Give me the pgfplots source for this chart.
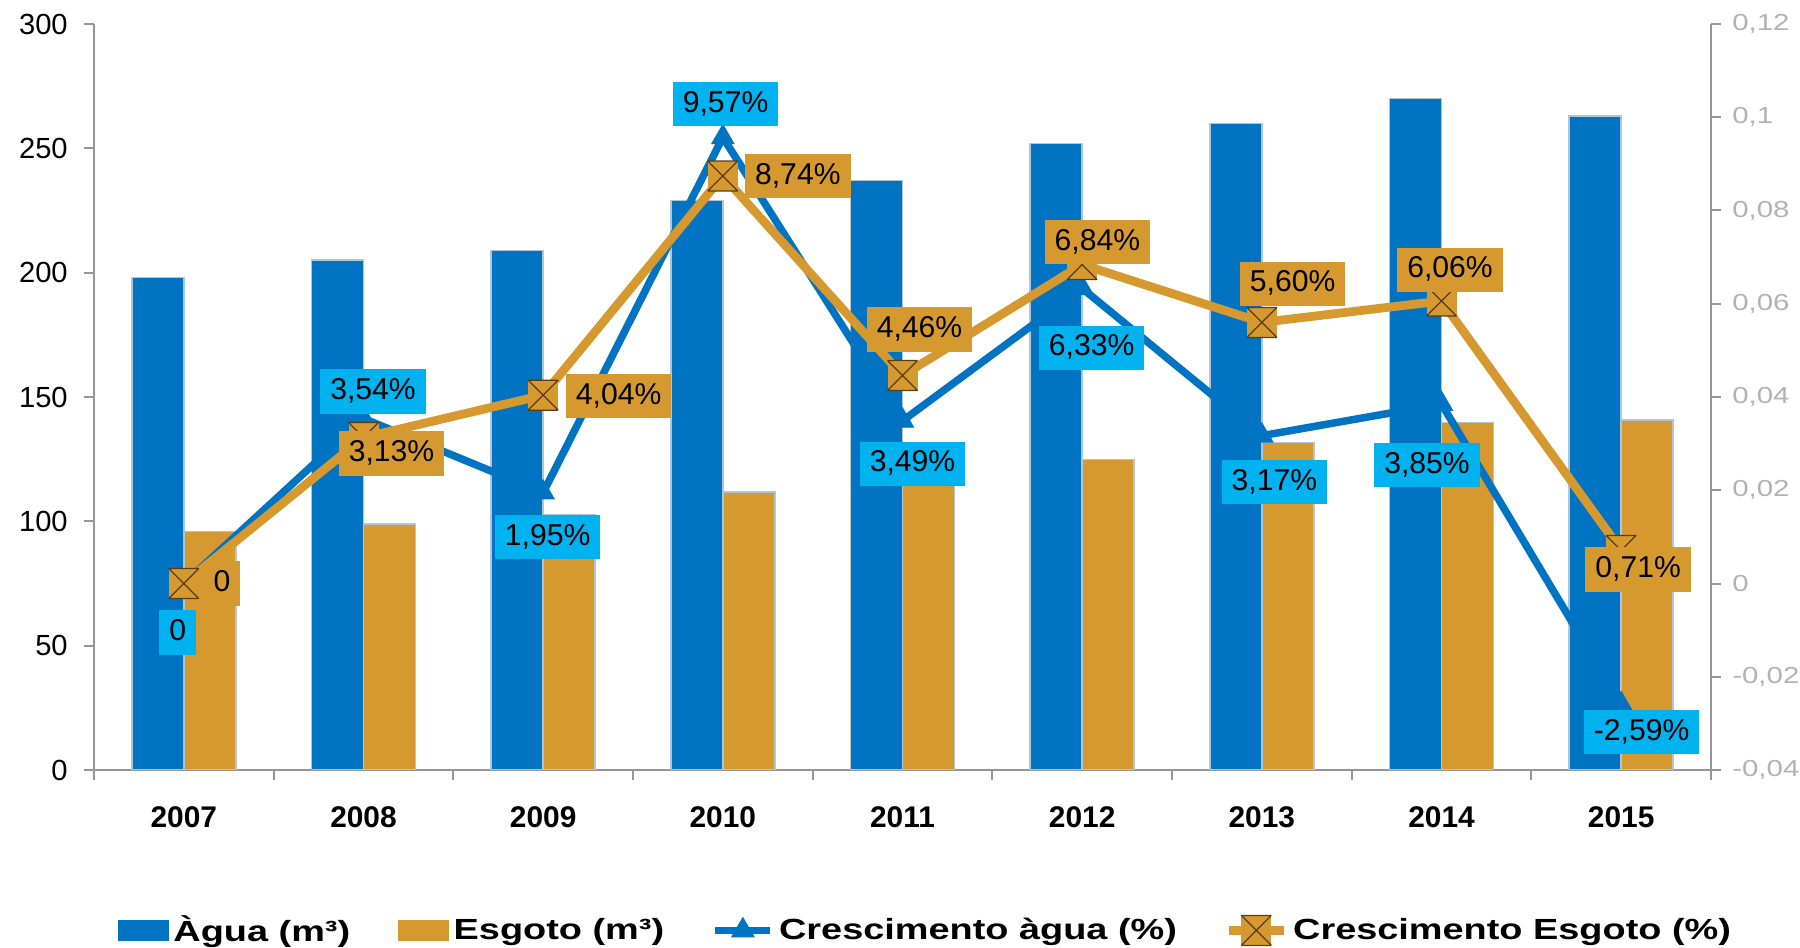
\documentclass[border=0pt]{standalone}
\usepackage{fontspec}
\setmainfont{Liberation Sans}
\usepackage{graphicx}
\usepackage{pgfplots}
\pgfplotsset{compat=1.18}

\definecolor{agua}{RGB}{0,115,195}
\definecolor{esgoto}{RGB}{214,153,48}
\definecolor{rotagua}{RGB}{0,178,240}
\definecolor{axisgray}{RGB}{150,150,150}
\definecolor{barline}{RGB}{175,198,212}
\definecolor{xmark}{RGB}{90,60,20}

% square mark with an X and top/bottom edges (Excel style)
\pgfdeclareplotmark{boxx}{%
  \pgfpathrectangle{\pgfqpoint{-\pgfplotmarksize}{-\pgfplotmarksize}}{\pgfqpoint{2\pgfplotmarksize}{2\pgfplotmarksize}}%
  \pgfusepathqfill
  \pgfpathmoveto{\pgfqpoint{-\pgfplotmarksize}{-\pgfplotmarksize}}%
  \pgfpathlineto{\pgfqpoint{\pgfplotmarksize}{\pgfplotmarksize}}%
  \pgfpathmoveto{\pgfqpoint{-\pgfplotmarksize}{\pgfplotmarksize}}%
  \pgfpathlineto{\pgfqpoint{\pgfplotmarksize}{-\pgfplotmarksize}}%
  \pgfpathmoveto{\pgfqpoint{-\pgfplotmarksize}{\pgfplotmarksize}}%
  \pgfpathlineto{\pgfqpoint{\pgfplotmarksize}{\pgfplotmarksize}}%
  \pgfpathmoveto{\pgfqpoint{-\pgfplotmarksize}{-\pgfplotmarksize}}%
  \pgfpathlineto{\pgfqpoint{\pgfplotmarksize}{-\pgfplotmarksize}}%
  \pgfusepathqstroke
}

\newcommand{\legtxt}[1]{\scalebox{1.3}[1]{#1}}
\newcommand{\rlab}[1]{\scalebox{1.27}[1]{#1}}

\begin{document}
\begin{tikzpicture}[
    lblA/.style={fill=rotagua, inner xsep=4bp, inner ysep=3.1bp, text height=9bp, text depth=2.5bp,
                 font=\fontsize{12.1}{14}\selectfont, text=black},
    lblE/.style={lblA, fill=esgoto},
  ]
  % bars, left axis
  \begin{axis}[
      name=bars,
      scale only axis,
      width=646.8bp, height=298.4bp,
      xmin=-0.5, xmax=8.5,
      ymin=0, ymax=300,
      axis x line*=bottom, axis y line*=left,
      axis line style={axisgray, line width=0.8bp},
      tick style={axisgray, line width=0.8bp},
      tick align=outside,
      major tick length=4bp,
      xtick={-0.5,0.5,1.5,2.5,3.5,4.5,5.5,6.5,7.5,8.5},
      x tick label as interval,
      xticklabels={2007,2008,2009,2010,2011,2012,2013,2014,2015},
      xticklabel style={font=\bfseries\fontsize{12}{14}\selectfont, yshift=-7bp},
      ytick={0,50,100,150,200,250,300},
      yticklabel style={font=\fontsize{11.7}{13}\selectfont, xshift=-3bp},
      /pgf/number format/assume math mode=true,
    ]
    \addplot[ybar, bar width=20.8bp, bar shift=-10.4bp, fill=agua, draw=barline, line width=0.6bp]
      coordinates {(0,198) (1,205) (2,209) (3,229) (4,237) (5,252) (6,260) (7,270) (8,263)};
    \addplot[ybar, bar width=20.8bp, bar shift=10.4bp, fill=esgoto, draw=barline, line width=0.6bp]
      coordinates {(0,96) (1,99) (2,102.8) (3,111.8) (4,116.8) (5,124.8) (6,131.8) (7,139.8) (8,140.8)};
  \end{axis}

  % growth lines, right axis
  \begin{axis}[
      scale only axis,
      width=646.8bp, height=298.4bp,
      xmin=-0.5, xmax=8.5,
      ymin=-0.04, ymax=0.12,
      axis x line=none, axis y line*=right,
      axis line style={axisgray, line width=0.8bp},
      tick style={axisgray, line width=0.8bp},
      tick align=outside,
      major tick length=4bp,
      ytick={-0.04,-0.02,0,0.02,0.04,0.06,0.08,0.1,0.12},
      yticklabels={\rlab{-0,04},\rlab{-0,02},\rlab{0},\rlab{0,02},\rlab{0,04},\rlab{0,06},\rlab{0,08},\rlab{0,1},\rlab{0,12}},
      yticklabel style={font=\fontsize{9.3}{11}\selectfont, text=black!30, xshift=1bp},
      legend columns=4,
      legend style={at={(0.515,-0.215)}, anchor=center, draw=none, fill=none,
                    font=\bfseries\fontsize{11.7}{14}\selectfont,
                    /tikz/every even column/.append style={column sep=17bp}},
      legend image code/.code={\draw[mark repeat=2,mark phase=2] plot coordinates {(0bp,0bp) (11bp,0bp) (22bp,0bp)};},
    ]
    \addlegendimage{legend image code/.code={\fill[agua] (0bp,-4bp) rectangle (20bp,4bp);}}
    \addlegendentry{\legtxt{Àgua (m³)}}
    \addlegendimage{legend image code/.code={\fill[esgoto] (0bp,-4bp) rectangle (20bp,4bp);}}
    \addlegendentry{\legtxt{Esgoto (m³)}}

    \addplot[agua, line width=3bp, mark=triangle*, mark size=5bp, mark options={solid, fill=agua, draw=agua, line width=0.5bp}]
      coordinates {(0,0) (1,0.0354) (2,0.0195) (3,0.0957) (4,0.0349) (5,0.0633) (6,0.0317) (7,0.0385) (8,-0.0259)};
    \addlegendentry{\legtxt{Crescimento àgua (\%)}}
    \addplot[esgoto, line width=3.5bp, mark=boxx, mark size=6bp, mark options={solid, fill=esgoto, draw=xmark, line width=0.5bp}]
      coordinates {(0,0) (1,0.0313) (2,0.0404) (3,0.0874) (4,0.0446) (5,0.0684) (6,0.056) (7,0.0606) (8,0.0071)};
    \addlegendentry{\legtxt{Crescimento Esgoto (\%)}}

    % anchor points for the data labels
    \coordinate (a0) at (axis cs:0,0);
    \coordinate (a1) at (axis cs:1,0.0354);
    \coordinate (a2) at (axis cs:2,0.0195);
    \coordinate (a3) at (axis cs:3,0.0957);
    \coordinate (a4) at (axis cs:4,0.0349);
    \coordinate (a5) at (axis cs:5,0.0633);
    \coordinate (a6) at (axis cs:6,0.0317);
    \coordinate (a7) at (axis cs:7,0.0385);
    \coordinate (a8) at (axis cs:8,-0.0259);
    \coordinate (e0) at (axis cs:0,0);
    \coordinate (e1) at (axis cs:1,0.0313);
    \coordinate (e2) at (axis cs:2,0.0404);
    \coordinate (e3) at (axis cs:3,0.0874);
    \coordinate (e4) at (axis cs:4,0.0446);
    \coordinate (e5) at (axis cs:5,0.0684);
    \coordinate (e6) at (axis cs:6,0.056);
    \coordinate (e7) at (axis cs:7,0.0606);
    \coordinate (e8) at (axis cs:8,0.0071);
  \end{axis}

  % data labels on top of lines and marks
  \node[lblA, xshift=-2.4bp, yshift=-19.6bp] at (a0) {0};
  \node[lblA, xshift=3.8bp,  yshift=10.8bp]  at (a1) {3,54\%};
  \node[lblA, xshift=1.8bp,  yshift=-17.9bp] at (a2) {1,95\%};
  \node[lblA, xshift=1.1bp,  yshift=13.2bp]  at (a3) {9,57\%};
  \node[lblA, xshift=4bp,    yshift=-17.2bp] at (a4) {3,49\%};
  \node[lblA, xshift=3.8bp,  yshift=-23.8bp] at (a5) {6,33\%};
  \node[lblA, xshift=5bp,    yshift=-18.6bp] at (a6) {3,17\%};
  \node[lblA, xshift=-5.8bp, yshift=-24.4bp] at (a7) {3,85\%};
  \node[lblA, xshift=8.2bp,  yshift=-11.2bp] at (a8) {-2,59\%};
  \node[lblE, xshift=15.3bp, yshift=0bp]     at (e0) {0};
  \node[lblE, xshift=11.2bp, yshift=-6.4bp]  at (e1) {3,13\%};
  \node[lblE, xshift=30.2bp, yshift=-0.4bp]  at (e2) {4,04\%};
  \node[lblE, xshift=30bp,   yshift=0bp]     at (e3) {8,74\%};
  \node[lblE, xshift=6.8bp,  yshift=18.4bp]  at (e4) {4,46\%};
  \node[lblE, xshift=6.1bp,  yshift=9bp]     at (e5) {6,84\%};
  \node[lblE, xshift=12.3bp, yshift=15.5bp]  at (e6) {5,60\%};
  \node[lblE, xshift=3.4bp,  yshift=12.5bp]  at (e7) {6,06\%};
  \node[lblE, xshift=6.8bp,  yshift=-7.6bp]  at (e8) {0,71\%};

  \pgfresetboundingbox
  \path[use as bounding box] (-37.6bp,-71.2bp) rectangle (682.4bp,308bp);
\end{tikzpicture}
\end{document}
